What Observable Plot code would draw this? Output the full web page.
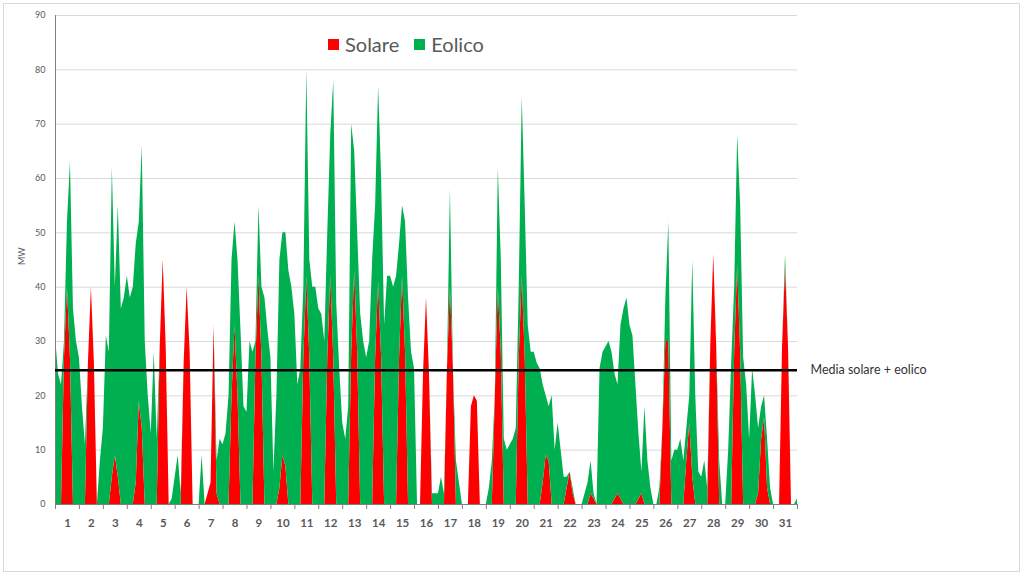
<!DOCTYPE html>
<html>
<head>
<meta charset="utf-8">
<script src="https://cdn.jsdelivr.net/npm/d3@7"></script>
<script src="https://cdn.jsdelivr.net/npm/@observablehq/plot@0.6"></script>
<style>
  html, body { margin: 0; padding: 0; background: #fff; }
  #wrap { position: relative; width: 1024px; height: 576px; overflow: hidden; background: #fff; }
  #frame { position: absolute; left: 3px; top: 3px; width: 1017px; height: 569px; border: 1px solid #d9d9d9; box-sizing: border-box; pointer-events: none; }
  #legend { position: absolute; left: 328px; top: 32px; font-family: Lato, "Liberation Sans", sans-serif; font-size: 20px; color: #595959; display: flex; align-items: center; }
  #legend .item { display: flex; align-items: center; margin-right: 15px; }
  #legend .sw { width: 11px; height: 11px; margin-right: 6px; }
</style>
</head>
<body>
<div id="wrap">
  <div id="chart"></div>
  <div id="legend"></div>
  <div id="frame"></div>
</div>
<script>
// ---- data ----
const giorni = d3.range(1, 32);              // day labels 1..31
const ore = [0, 3, 6, 9, 12, 15, 18, 21];    // sample hours within each day
const serie = ["Solare", "Eolico"];
const colori = ["#ff0000", "#00b050"];
const yTicks = d3.range(0, 100, 10);
const etichettaMedia = "Media solare + eolico";
const etichettaY = "MW";

// MW, sampled every 3 hours (8 per day), last value = end of day 31
const solare = [
  0,0,0,27,40,27,0,0,   0,0,0,26,40,26,0,0,   0,0,0,5,9,5,0,0,     0,0,0,4,19,14,0,0,
  0,0,0,29,45,29,0,0,   0,0,0,26,40,28,0,0,   0,0,0,2,4,33,2,0,    0,0,0,20,33,20,0,0,
  0,0,0,27,42,27,0,0,   0,0,0,3,9,7,0,0,      0,0,0,27,42,27,0,0,  0,0,0,27,42,27,0,0,
  0,0,0,28,43,28,0,0,   0,0,0,27,41,27,0,0,   0,0,0,27,42,28,0,0,  0,0,0,24,38,24,0,0,
  0,0,0,25,40,25,0,0,   0,0,0,18,20,19,0,0,   0,0,0,20,40,28,0,0,  0,0,0,27,42,27,0,0,
  0,0,0,4,9,8,0,0,      0,0,0,3,6,2,0,0,      0,0,0,2,1,0,0,0,     0,0,0,1,2,1,0,0,
  0,0,0,1,2,0,0,0,      0,0,0,14,30,30,0,0,   0,0,0,8,15,5,0,0,    0,0,0,29,46,29,0,0,
  0,0,0,28,44,28,0,0,   0,0,0,2,12,16,3,0,    0,0,0,29,44,29,0,0,
  0
];
const eolico = [
  31,24,22,3,12,36,36,30,  27,18,11,0,0,0,0,8,     14,31,28,57,31,50,36,38, 42,38,40,44,33,52,30,20,
  13,28,12,0,0,0,0,1,      5,9,2,0,0,0,0,0,        0,9,0,0,0,0,6,12,        11,13,20,25,19,25,32,18,
  17,30,28,3,13,13,38,32,  27,6,20,42,41,43,43,40, 35,22,25,13,38,18,40,40, 36,35,30,23,26,51,37,25,
  15,12,18,42,22,22,35,30, 27,30,45,28,36,33,33,42, 42,40,42,21,13,24,38,28, 25,0,0,0,0,0,2,2,
  2,5,2,0,18,0,8,4,        0,0,0,0,0,0,0,0,        0,3,8,0,22,17,12,10,     11,12,14,13,33,28,33,28,
  28,26,25,18,11,10,20,10, 15,10,5,2,0,1,0,0,      0,2,4,6,1,0,25,28,       29,30,28,23,20,32,36,38,
  33,31,22,12,4,18,8,3,    0,0,3,0,8,22,8,10,      10,12,8,6,5,40,20,6,     5,8,3,0,0,0,8,0,
  0,10,26,12,24,27,27,22,  12,25,20,12,6,4,9,3,    0,0,0,0,2,0,0,0,
  1
];

// ---- derived table ----
const passo = (ore[1] - ore[0]) / 24;
const righe = [
  ...solare.map((v, i) => ({ t: i * passo, serie: serie[0], valore: v })),
  ...eolico.map((v, i) => ({ t: i * passo, serie: serie[1], valore: v }))
];
const media = d3.mean(solare.map((s, i) => s + eolico[i]));
const confini = d3.range(0, giorni.length + 1);

const chart = Plot.plot({
  width: 1024,
  height: 576,
  marginLeft: 55,
  marginRight: 227,
  marginTop: 15,
  marginBottom: 72,
  style: { fontFamily: "Lato, 'Liberation Sans', sans-serif", background: "transparent", overflow: "visible" },
  x: { domain: [0, giorni.length] },
  y: { domain: [0, 90], axis: null },
  color: { domain: serie, range: colori },
  marks: [
    Plot.gridY(yTicks.filter(d => d > 0), { stroke: "#d9d9d9", strokeOpacity: 1 }),
    Plot.areaY(righe, { x: "t", y: "valore", fill: "serie", order: serie, curve: "linear" }),
    Plot.ruleX([0], { stroke: "#808080", strokeWidth: 1 }),
    Plot.ruleY([0], { stroke: "#808080", strokeWidth: 1 }),
    Plot.axisX(confini, { tickSize: 5, tickFormat: () => "", stroke: "#808080", label: null }),
    Plot.text(giorni, { x: d => d - 0.5, frameAnchor: "bottom", dy: 22, text: d => String(d),
      fill: "#595959", fontSize: 11.5, fontWeight: "bold" }),
    Plot.text(yTicks, { y: d => d, frameAnchor: "left", dx: -10, textAnchor: "end", text: d => String(d),
      fill: "#595959", fontSize: 9 }),
    Plot.text([etichettaY], { frameAnchor: "left", dx: -33, dy: 5, rotate: -90, text: d => d,
      fill: "#595959", fontSize: 9 }),
    Plot.ruleY([media], { stroke: "#000", strokeWidth: 2.5 }),
    Plot.text([media], { y: d => d, frameAnchor: "right", dx: 13, textAnchor: "start",
      text: () => etichettaMedia, fill: "#333", fontSize: 12.5 })
  ]
});
document.getElementById("chart").appendChild(chart);

// legend
const leg = document.getElementById("legend");
serie.forEach((s, i) => {
  const it = document.createElement("div");
  it.className = "item";
  const sw = document.createElement("span");
  sw.className = "sw";
  sw.style.background = colori[i];
  const lab = document.createElement("span");
  lab.textContent = s;
  it.appendChild(sw);
  it.appendChild(lab);
  leg.appendChild(it);
});
</script>
</body>
</html>
